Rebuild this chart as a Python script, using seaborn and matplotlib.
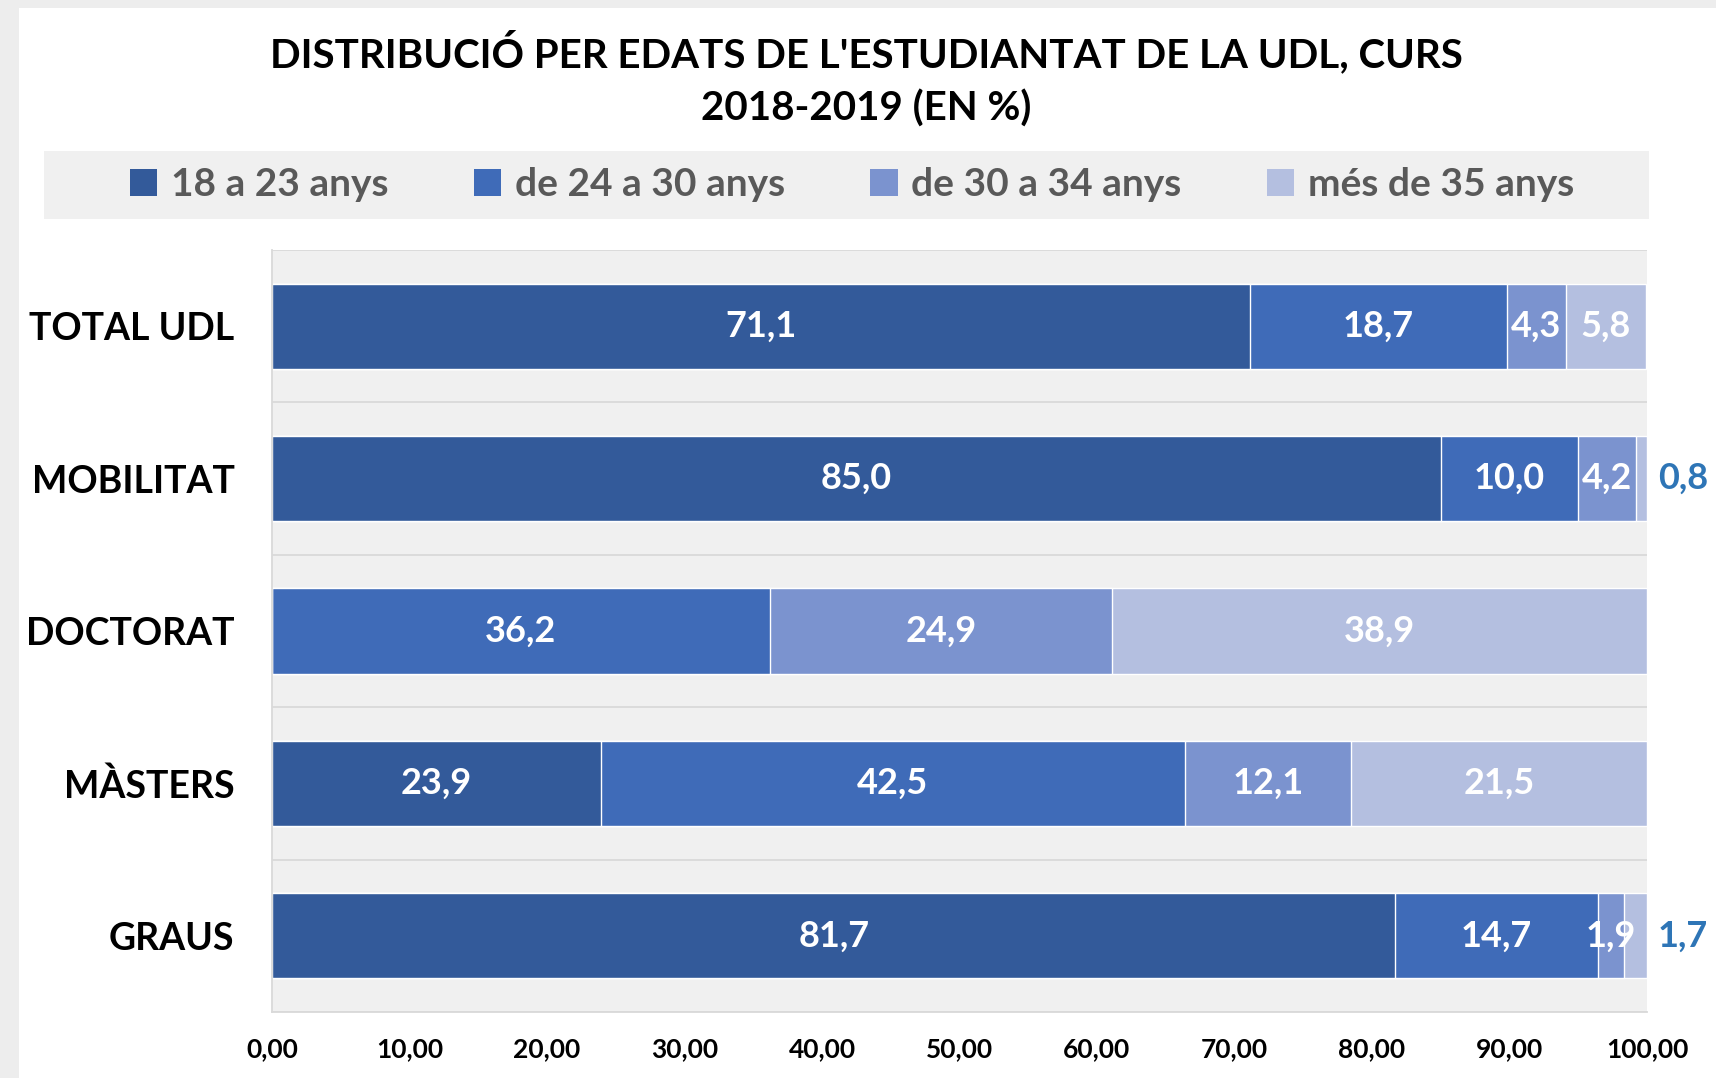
import matplotlib
matplotlib.use("Agg")
import numpy as np
import pandas as pd
import matplotlib.pyplot as plt
from matplotlib.patches import Rectangle, Patch
import seaborn as sns

# Data
categories = ["TOTAL UDL", "MOBILITAT", "DOCTORAT", "MÀSTERS", "GRAUS"]
series_names = ["18 a 23 anys", "de 24 a 30 anys", "de 30 a 34 anys", "més de 35 anys"]
age_18_23 = [71.1, 85.0, 0.0, 23.9, 81.7]
age_24_30 = [18.7, 10.0, 36.2, 42.5, 14.7]
age_30_34 = [4.3, 4.2, 24.9, 12.1, 1.9]
age_35_plus = [5.8, 0.8, 38.9, 21.5, 1.7]
x_ticks = [0, 10, 20, 30, 40, 50, 60, 70, 80, 90, 100]
title = "DISTRIBUCIÓ PER EDATS DE L'ESTUDIANTAT DE LA UDL, CURS\n2018-2019 (EN %)"

colors = ["#335a9a", "#3f6bb8", "#7b93cf", "#b4bfe0"]

sns.set_style("white")
plt.rcParams["font.family"] = ["Lato", "DejaVu Sans"]

W, H = 1716, 1078
fig = plt.figure(figsize=(W / 100, H / 100), dpi=100)
fig.patch.set_facecolor("white")

# card shadow on the left / top edge
fig.patches.append(Rectangle((0, 0), 19 / W, 1, transform=fig.transFigure,
                             facecolor="#ededed", edgecolor="none", zorder=0))
fig.patches.append(Rectangle((0, 1 - 8 / H), 1, 8 / H, transform=fig.transFigure,
                             facecolor="#ededed", edgecolor="none", zorder=0))
# legend band
fig.patches.append(Rectangle((44 / W, 1 - 219 / H), (1649 - 44) / W, 68 / H,
                             transform=fig.transFigure, facecolor="#f0f0f0",
                             edgecolor="none", zorder=0))

ax = fig.add_axes([272 / W, 1 - 1012 / H, (1647 - 272) / W, (1012 - 250) / H])
ax.set_facecolor("#f0f0f0")

series = [age_18_23, age_24_30, age_30_34, age_35_plus]
cum = np.cumsum(np.array(series), axis=0)

# stacked bars: draw cumulative totals from the widest down
for i in reversed(range(len(series))):
    df = pd.DataFrame({"cat": categories, "val": cum[i]})
    sns.barplot(data=df, x="val", y="cat", orient="y", color=colors[i],
                saturation=1, width=0.56, ax=ax, zorder=2)

# value labels
for i, vals in enumerate(series):
    for j, v in enumerate(vals):
        if v == 0:
            continue
        txt = f"{v:.1f}".replace(".", ",")
        if i == len(series) - 1 and v < 2:
            ax.annotate(txt, (cum[i][j], j), xytext=(8, 0), textcoords="offset points",
                        ha="left", va="center", color="#2e75b6", fontsize=26,
                        fontweight="bold", annotation_clip=False)
        else:
            ax.text(cum[i][j] - v / 2, j, txt, ha="center", va="center",
                    color="white", fontsize=26, fontweight="bold", zorder=3)

ax.set_xlim(0, 100)
ax.set_ylim(len(categories) - 0.5, -0.5)
ax.set_xticks(x_ticks)
ax.set_xticklabels([f"{t:.2f}".replace(".", ",") for t in x_ticks],
                   fontsize=19, fontweight="bold")
ax.set_yticks(range(len(categories)))
ax.set_yticklabels(categories, fontsize=27, fontweight="bold")
ax.set_yticks(np.arange(len(categories) + 1) - 0.5, minor=True)
ax.grid(False)
ax.grid(axis="y", which="minor", color="#d9d9d9", linewidth=1.3, zorder=1)
ax.set_axisbelow(True)
ax.set_xlabel("")
ax.set_ylabel("")

ax.tick_params(axis="x", length=5, width=1.2, color="#d9d9d9", pad=13, labelcolor="black")
ax.tick_params(axis="y", which="both", length=0, pad=27, labelcolor="black")
for s in ["top", "right"]:
    ax.spines[s].set_visible(False)
for s in ["left", "bottom"]:
    ax.spines[s].set_color("#d9d9d9")
    ax.spines[s].set_linewidth(1.3)

handles = [Patch(facecolor=c, edgecolor="none") for c in colors]
fig.legend(handles, series_names, loc="center", bbox_to_anchor=(852 / W, 1 - 185 / H),
           ncol=4, frameon=False, handlelength=0.7, handleheight=0.7,
           handletextpad=0.35, columnspacing=2.2, labelcolor="#595959",
           prop={"size": 28, "weight": "bold", "family": ["Lato", "DejaVu Sans"]})

fig.text(866 / W, 1 - 79 / H, title, ha="center", va="center", fontsize=29,
         fontweight="bold", linespacing=1.5, color="black")

fig.savefig("out.png", dpi=100, facecolor=fig.get_facecolor())
